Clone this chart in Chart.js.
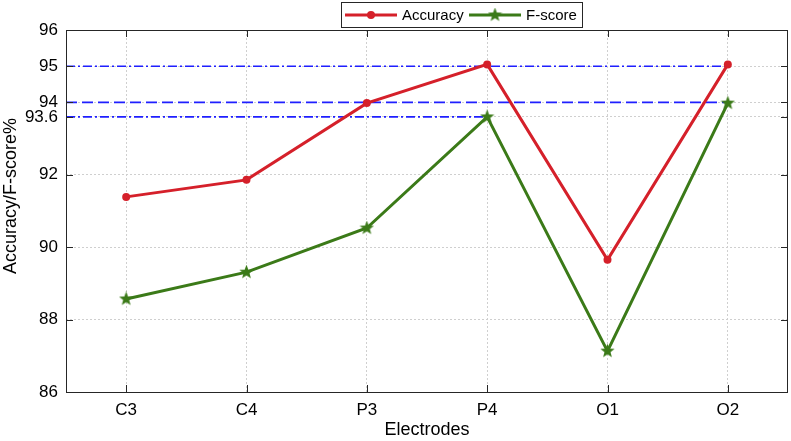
<!DOCTYPE html>
<html><head><meta charset="utf-8">
<script src="https://cdn.jsdelivr.net/npm/chart.js@4/dist/chart.umd.min.js"></script>
<style>html,body{margin:0;padding:0;background:#fff;overflow:hidden;}#wrap{width:791px;height:441px;overflow:hidden;}canvas{display:block;}</style>
</head><body><div id="wrap"><canvas id="c" width="798" height="441"></canvas></div>
<script>
const categories = ['C3', 'C4', 'P3', 'P4', 'O1', 'O2'];
const accuracy = [91.39, 91.86, 93.98, 95.05, 89.65, 95.05];
const fscore = [88.57, 89.31, 90.53, 93.6, 87.13, 93.98];
const yTicks = [86, 88, 90, 92, 93.6, 94, 95, 96];
const refLevels = [95, 94, 93.6];
const refEndCategory = ['O2', 'O2', 'P4'];
const refStyles = ['dashdot', 'dash', 'dashdot'];
const seriesNames = ['Accuracy', 'F-score'];
const yTitle = 'Accuracy/F-score%';
const xTitle = 'Electrodes';

const RED = '#d5202a';
const GREEN = '#3b7a18';
const BLUE = '#1f1fff';
const FONT = "'Liberation Sans', Arial, sans-serif";

function makeStar(size, color) {
  const c = document.createElement('canvas');
  c.width = size; c.height = size;
  const g = c.getContext('2d');
  const cx = size / 2, cy = size / 2, ro = size / 2, ri = ro * 0.42;
  g.beginPath();
  for (let i = 0; i < 10; i++) {
    const r = i % 2 === 0 ? ro : ri;
    const a = -Math.PI / 2 + i * Math.PI / 5;
    const px = cx + r * Math.cos(a), py = cy + r * Math.sin(a);
    if (i === 0) g.moveTo(px, py); else g.lineTo(px, py);
  }
  g.closePath();
  g.fillStyle = color;
  g.fill();
  return c;
}
const star = makeStar(15, GREEN);

const decor = {
  id: 'decor',
  beforeDatasetsDraw(chart) {
    const ctx = chart.ctx, a = chart.chartArea, x = chart.scales.x, y = chart.scales.y;
    ctx.save();
    ctx.strokeStyle = BLUE;
    ctx.lineWidth = 1.6;
    refLevels.forEach((lv, i) => {
      const py = y.getPixelForValue(lv);
      const x1 = x.getPixelForValue(categories.indexOf(refEndCategory[i]));
      ctx.setLineDash(refStyles[i] === 'dash' ? [11, 5] : [9, 3, 2, 3]);
      ctx.beginPath();
      ctx.moveTo(a.left, py);
      ctx.lineTo(x1, py);
      ctx.stroke();
    });
    ctx.restore();
  },
  afterDraw(chart) {
    const ctx = chart.ctx, a = chart.chartArea, x = chart.scales.x, y = chart.scales.y;
    ctx.save();
    ctx.strokeStyle = '#262626';
    ctx.lineWidth = 1;
    ctx.setLineDash([]);
    ctx.strokeRect(Math.round(a.left) + 0.5, Math.round(a.top) + 0.5, Math.round(a.right - a.left) - 1, Math.round(a.bottom - a.top));
    ctx.beginPath();
    yTicks.forEach(v => {
      const py = Math.round(y.getPixelForValue(v)) + 0.5;
      ctx.moveTo(a.left, py); ctx.lineTo(a.left + 7, py);
      ctx.moveTo(a.right - 7, py); ctx.lineTo(a.right, py);
    });
    categories.forEach((c, i) => {
      const px = Math.round(x.getPixelForValue(i)) + 0.5;
      ctx.moveTo(px, a.bottom); ctx.lineTo(px, a.bottom - 7);
      ctx.moveTo(px, a.top); ctx.lineTo(px, a.top + 7);
    });
    ctx.stroke();

    ctx.save();
    ctx.translate(11, 196);
    ctx.rotate(-Math.PI / 2);
    ctx.fillStyle = '#000';
    ctx.font = '18px ' + FONT;
    ctx.textAlign = 'center';
    ctx.textBaseline = 'middle';
    ctx.fillText(yTitle, 0, 0);
    ctx.restore();

    const lx = 341, ly = 2, lw = 241, lh = 25;
    ctx.fillStyle = '#fff';
    ctx.fillRect(lx, ly, lw, lh);
    ctx.strokeStyle = '#262626';
    ctx.lineWidth = 1;
    ctx.strokeRect(lx + 0.5, ly + 0.5, lw, lh);
    const my = ly + lh / 2 + 0.5;
    ctx.lineWidth = 3;
    ctx.strokeStyle = RED;
    ctx.beginPath(); ctx.moveTo(345, my); ctx.lineTo(397, my); ctx.stroke();
    ctx.fillStyle = RED;
    ctx.beginPath(); ctx.arc(371, my, 4, 0, Math.PI * 2); ctx.fill();
    ctx.strokeStyle = GREEN;
    ctx.beginPath(); ctx.moveTo(469, my); ctx.lineTo(521, my); ctx.stroke();
    ctx.drawImage(star, 495 - 7.5, my - 7.5);
    ctx.fillStyle = '#000';
    ctx.font = '15px ' + FONT;
    ctx.textBaseline = 'middle';
    ctx.fillText(seriesNames[0], 402, my + 1);
    ctx.fillText(seriesNames[1], 526, my + 1);
    ctx.restore();
  }
};

new Chart(document.getElementById('c'), {
  type: 'line',
  data: {
    labels: categories,
    datasets: [
      { label: seriesNames[0], data: accuracy, borderColor: RED, backgroundColor: RED, borderWidth: 3,
        pointRadius: 4, pointBackgroundColor: RED, pointBorderColor: RED, pointBorderWidth: 0, tension: 0 },
      { label: seriesNames[1], data: fscore, borderColor: GREEN, backgroundColor: GREEN, borderWidth: 3,
        pointStyle: star, pointRadius: 7, tension: 0 }
    ]
  },
  options: {
    responsive: false,
    devicePixelRatio: 1,
    animation: false,
    layout: { padding: { left: 0, top: 30, right: 0, bottom: 0 } },
    plugins: { legend: { display: false }, tooltip: { enabled: false } },
    scales: {
      x: {
        type: 'category',
        offset: true,
        grid: { offset: false, color: '#cfcfcf', lineWidth: 1, drawTicks: false },
        border: { display: false, dash: [2, 2] },
        ticks: { color: '#000', font: { family: FONT, size: 17 }, padding: 8, maxRotation: 0 },
        title: { display: true, text: xTitle, color: '#000', font: { family: FONT, size: 18 }, padding: { top: 0, bottom: 0 } },
        afterFit(s) { s.height = 49; s.paddingLeft = 0; s.paddingRight = 0; }
      },
      y: {
        min: 86, max: 96,
        afterBuildTicks(s) { s.ticks = yTicks.map(v => ({ value: v })); },
        grid: { color: '#cfcfcf', lineWidth: 1, drawTicks: false },
        border: { display: false, dash: [2, 2] },
        ticks: { color: '#000', font: { family: FONT, size: 17 }, padding: 8, callback: v => String(v) },
        afterFit(s) { s.width = 66; s.paddingTop = 0; s.paddingBottom = 0; }
      }
    }
  },
  plugins: [decor]
});
</script>
</body></html>
